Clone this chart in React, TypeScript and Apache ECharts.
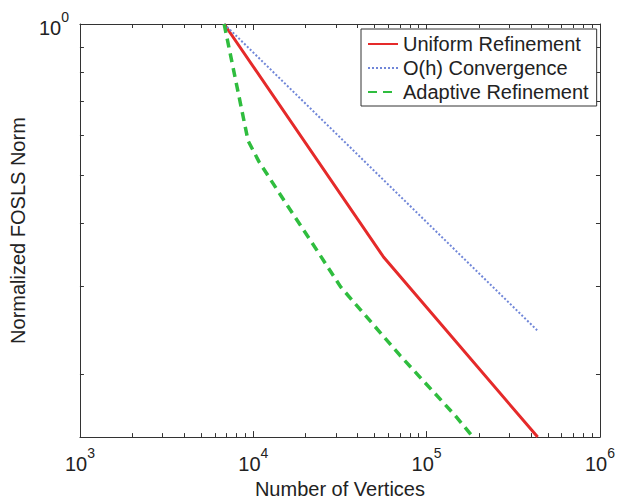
import React, { useEffect, useRef } from "react";
import * as echarts from "echarts";

const uniformN = [6790, 56400, 437000];
const uniformNorm = [1, 0.343, 0.15];
const ohN = [6790, 434000];
const ohNorm = [1, 0.245];
const adaptiveN = [6790, 9333, 10800, 15030, 23550, 31910, 70420, 145900, 185100];
const adaptiveNorm = [1, 0.585, 0.531, 0.445, 0.3516, 0.299, 0.218, 0.1657, 0.15];

const xMajorTicks = [1e3, 1e4, 1e5, 1e6];
const xMinorTicks = [
  2e3, 3e3, 4e3, 5e3, 6e3, 7e3, 8e3, 9e3,
  2e4, 3e4, 4e4, 5e4, 6e4, 7e4, 8e4, 9e4,
  2e5, 3e5, 4e5, 5e5, 6e5, 7e5, 8e5, 9e5,
];
const yMinorTicks = [0.2, 0.3, 0.4, 0.5, 0.6, 0.7, 0.8, 0.9];
const yLabelTicks = [1];

const FONT = "Liberation Sans, Arial, Helvetica, sans-serif";
const TXT = "#222";
const AX = "#333";

const supRich = {
  b: { fontSize: 20, fontFamily: FONT, color: TXT, lineHeight: 28, verticalAlign: "bottom" },
  s: { fontSize: 14, fontFamily: FONT, color: TXT, lineHeight: 28, verticalAlign: "top" },
};
const supFormatter = (v: number) => `{b|10}{s|${Math.round(Math.log10(v))}}`;

export default function App() {
  const ref = useRef<HTMLDivElement>(null);
  useEffect(() => {
    if (!ref.current) return;
    const chart = echarts.init(ref.current, undefined, { renderer: "svg" });
    const xCommon = { type: "log", logBase: 10, min: 1e3, max: 1e6, splitLine: { show: false } };
    const yCommon = { type: "log", logBase: 10, min: 0.15, max: 1, splitLine: { show: false } };
    chart.setOption({
      animation: false,
      backgroundColor: "#fff",
      grid: { left: 78, right: 17, top: 24, bottom: 51, containLabel: false },
      legend: {
        orient: "vertical",
        left: 361,
        top: 29,
        itemWidth: 30,
        itemHeight: 14,
        itemGap: 4,
        padding: [5, 8, 4, 6],
        borderColor: AX,
        borderWidth: 1,
        backgroundColor: "#fff",
        itemStyle: { color: "rgba(0,0,0,0)", borderWidth: 0, opacity: 0 },
        textStyle: { fontSize: 20, fontFamily: FONT, color: TXT },
        data: ["Uniform Refinement", "O(h) Convergence", "Adaptive Refinement"],
      },
      xAxis: [
        {
          ...xCommon,
          position: "bottom",
          name: "Number of Vertices",
          nameLocation: "middle",
          nameGap: 39,
          nameTextStyle: { fontSize: 20, fontFamily: FONT, color: TXT },
          axisLine: { show: true, lineStyle: { color: AX, width: 1 } },
          axisTick: { show: true, inside: true, length: 6, customValues: xMajorTicks, lineStyle: { color: AX } },
          axisLabel: { show: true, margin: 9, customValues: xMajorTicks, formatter: supFormatter, rich: supRich },
        },
        {
          ...xCommon,
          position: "bottom",
          axisLine: { show: false },
          axisTick: { show: true, inside: true, length: 4, customValues: xMinorTicks, lineStyle: { color: AX } },
          axisLabel: { show: false },
        },
        {
          ...xCommon,
          position: "top",
          axisLine: { show: true, lineStyle: { color: AX, width: 1 } },
          axisTick: { show: true, inside: true, length: 6, customValues: xMajorTicks, lineStyle: { color: AX } },
          axisLabel: { show: false },
        },
        {
          ...xCommon,
          position: "top",
          axisLine: { show: false },
          axisTick: { show: true, inside: true, length: 4, customValues: xMinorTicks, lineStyle: { color: AX } },
          axisLabel: { show: false },
        },
      ],
      yAxis: [
        {
          ...yCommon,
          position: "left",
          name: "Normalized FOSLS Norm",
          nameLocation: "middle",
          nameGap: 46,
          nameTextStyle: { fontSize: 20, fontFamily: FONT, color: TXT },
          axisLine: { show: true, lineStyle: { color: AX, width: 1 } },
          axisTick: { show: true, inside: true, length: 4, customValues: yMinorTicks, lineStyle: { color: AX } },
          axisLabel: { show: true, margin: 11, customValues: yLabelTicks, formatter: supFormatter, rich: supRich },
        },
        {
          ...yCommon,
          position: "right",
          axisLine: { show: true, lineStyle: { color: AX, width: 1 } },
          axisTick: { show: true, inside: true, length: 4, customValues: yMinorTicks, lineStyle: { color: AX } },
          axisLabel: { show: false },
        },
      ],
      series: [
        {
          name: "Uniform Refinement",
          type: "line",
          xAxisIndex: 0,
          yAxisIndex: 0,
          showSymbol: false,
          symbol: "none",
          itemStyle: { color: "#e52a2a" },
          lineStyle: { color: "#e52a2a", width: 3, type: "solid" },
          data: uniformN.map((n, i) => [n, uniformNorm[i]]),
        },
        {
          name: "O(h) Convergence",
          type: "line",
          xAxisIndex: 0,
          yAxisIndex: 0,
          showSymbol: false,
          symbol: "none",
          itemStyle: { color: "#7086d8" },
          lineStyle: { color: "#7086d8", width: 2, type: [2, 2] },
          data: ohN.map((n, i) => [n, ohNorm[i]]),
        },
        {
          name: "Adaptive Refinement",
          type: "line",
          xAxisIndex: 0,
          yAxisIndex: 0,
          showSymbol: false,
          symbol: "none",
          itemStyle: { color: "#2fbd3e" },
          lineStyle: { color: "#2fbd3e", width: 3.5, type: [9, 6] },
          data: adaptiveN.map((n, i) => [n, adaptiveNorm[i]]),
        },
      ],
    });
    return () => chart.dispose();
  }, []);
  return (
    <div
      ref={ref}
      style={{ position: "fixed", left: 0, top: 0, width: 618, height: 504, background: "#fff" }}
    />
  );
}
